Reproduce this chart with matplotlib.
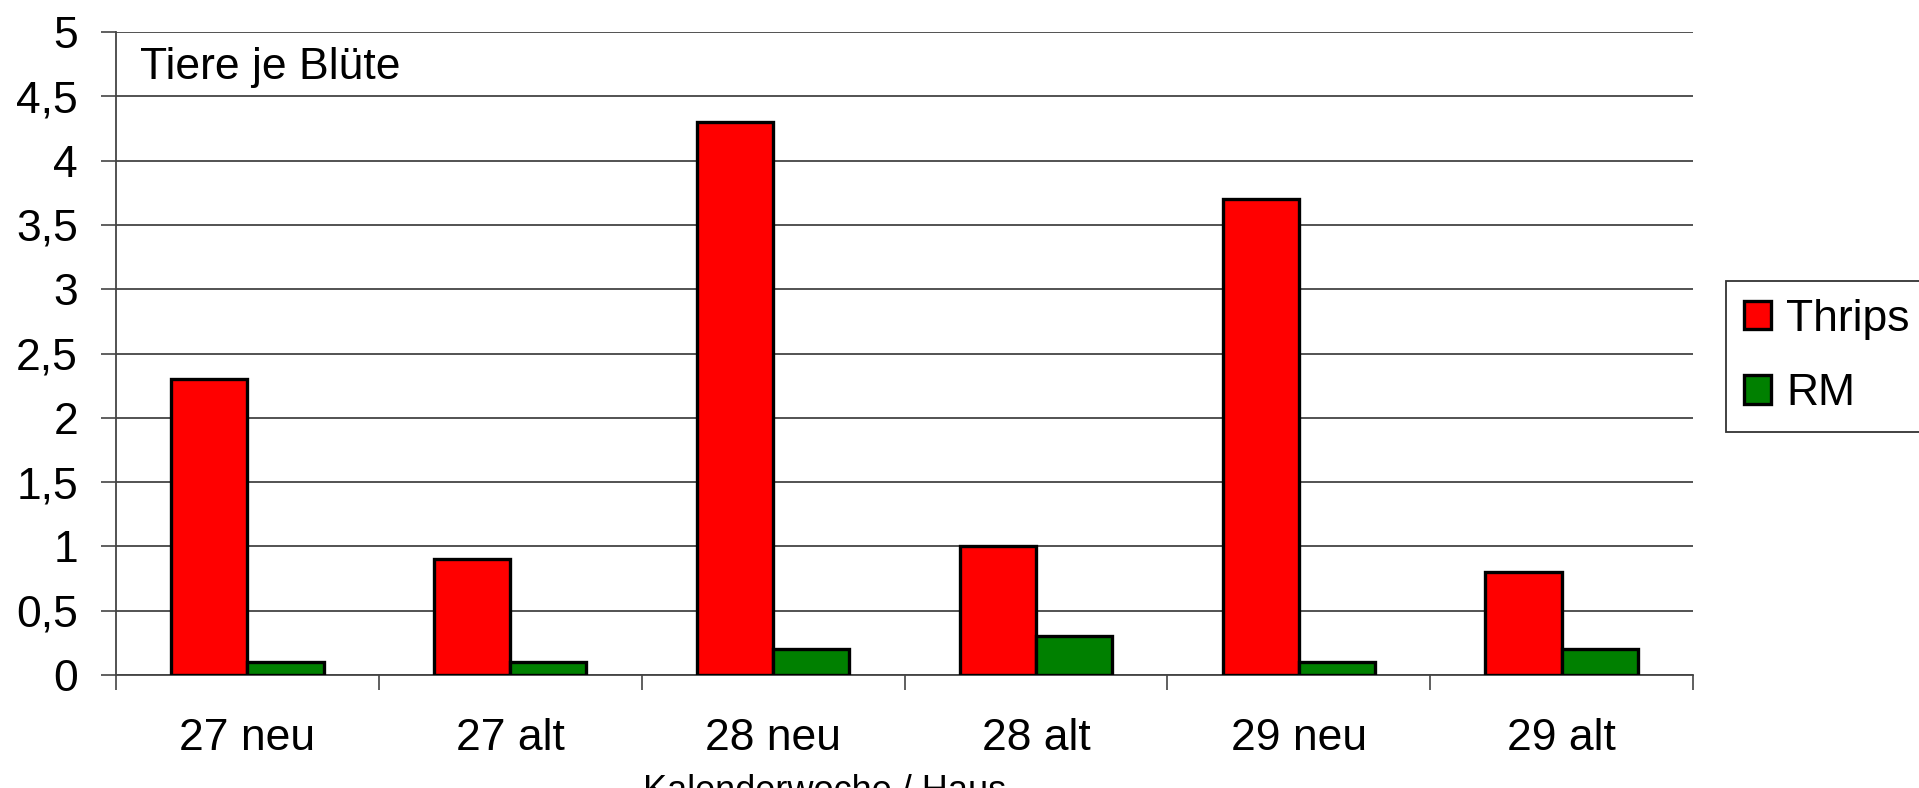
import matplotlib.pyplot as plt
import numpy as np

plt.rcParams['font.family'] = ['Liberation Sans', 'DejaVu Sans']

# Tiere je Blüte, per Kalenderwoche / Haus
kategorien = ['27 neu', '27 alt', '28 neu', '28 alt', '29 neu', '29 alt']
thrips = [2.3, 0.9, 4.3, 1.0, 3.7, 0.8]
rm = [0.1, 0.1, 0.2, 0.3, 0.1, 0.2]
y_ticks = [0, 0.5, 1, 1.5, 2, 2.5, 3, 3.5, 4, 4.5, 5]

fs = 32
px = 72 / 100.  # points per pixel at dpi 100

fig = plt.figure(figsize=(19.19, 7.88), dpi=100)
ax = fig.add_axes([116 / 1919, 1 - 675 / 788, (1693 - 116) / 1919, (675 - 32) / 788])

x = np.arange(len(kategorien))
w = 0.29
ax.bar(x - w / 2, thrips, w, color='#ff0000', edgecolor='black', linewidth=2.4,
       label='Thrips', zorder=3)
ax.bar(x + w / 2, rm, w, color='#008000', edgecolor='black', linewidth=2.4,
       label='RM', zorder=3)

ax.set_xlim(-0.5, len(kategorien) - 0.5)
ax.set_ylim(0, 5)

ax.set_yticks(y_ticks)
ax.set_yticklabels([('%g' % v).replace('.', ',') for v in y_ticks], fontsize=fs)
ax.tick_params(axis='y', length=15 * px, width=1.2, color='#444444', pad=23 * px)
ax.yaxis.grid(True, color='#444444', linewidth=1.3, zorder=0)

ax.set_xticks(x)
ax.set_xticklabels(kategorien, fontsize=fs)
ax.set_xticks(np.arange(-0.5, len(kategorien)), minor=True)
ax.tick_params(axis='x', which='major', length=0, pad=64 * px)
ax.tick_params(axis='x', which='minor', length=15 * px, width=1.2, color='#444444')
for lab in ax.get_xticklabels():
    lab.set_va('center')

for s in ['top', 'right']:
    ax.spines[s].set_visible(False)
for s in ['left', 'bottom']:
    ax.spines[s].set_color('#444444')
    ax.spines[s].set_linewidth(1.3)

ax.text(140 / 1919, 1 - 68 / 788, 'Tiere je Blüte', fontsize=fs, va='center',
        ha='left', transform=fig.transFigure)

fig.text(643 / 1919, 1 - 774 / 788, 'Kalenderwoche / Haus', fontsize=26,
         ha='left', va='top')

leg = fig.legend(loc='upper left', bbox_to_anchor=(1726 / 1919, 1 - 281 / 788),
                 fontsize=fs, frameon=True, fancybox=False, shadow=False,
                 handlelength=0.61, handleheight=0.61, handletextpad=0.34,
                 labelspacing=0.75, borderpad=0.4, borderaxespad=0)
leg.get_frame().set_edgecolor('black')
leg.get_frame().set_linewidth(1.3)

fig.savefig('out.png', dpi=100)
